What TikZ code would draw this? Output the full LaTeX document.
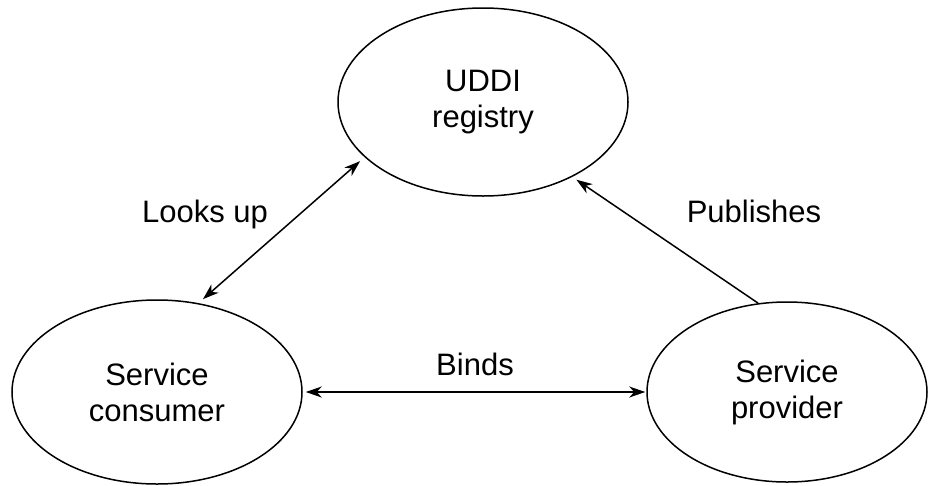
\documentclass[tikz,border=0pt]{standalone}
\usepackage{fontspec}
\setmainfont{Liberation Sans}
\usetikzlibrary{shapes.geometric,arrows.meta}
\tikzstyle{roleEllipse}=[shape = ellipse, draw, line width = 1.5pt, inner sep = 0pt, align = center]
\tikzstyle{actionLabel}=[anchor = base, inner sep = 0pt]

\begin{document}
\begin{tikzpicture}[x = 1pt, y = -1pt, font = \fontsize{31}{36}\selectfont]
\tikzstyle{linkStyle}=[line width = 1.5pt, >={Stealth[length=16pt, width=11pt, inset=5pt]}]
\useasboundingbox (0,0) rectangle (928,485);
\node[roleEllipse, minimum width = 290pt, minimum height = 188pt] (v0) at (483,102) {UDDI\\registry};
\node[roleEllipse, minimum width = 290pt, minimum height = 184pt] (v1) at (157,392) {Service\\consumer};
\node[roleEllipse, minimum width = 280pt, minimum height = 180pt] (v2) at (787,392) {Service\\provider};
\draw[linkStyle, <->, shorten <= 6pt, shorten >= 6pt] (v1.65) -- (v0.205);
\draw[linkStyle, ->, shorten >= 5pt] (v2.108) -- (v0.320);
\draw[linkStyle, <->, shorten <= 3pt, shorten >= 1pt] (v1.east) -- (v2.west);
\node[actionLabel] (l0) at (205,222) {Looks up};
\node[actionLabel] (l1) at (754,222) {Publishes};
\node[actionLabel] (l2) at (475,375) {Binds};
\end{tikzpicture}
\end{document}
